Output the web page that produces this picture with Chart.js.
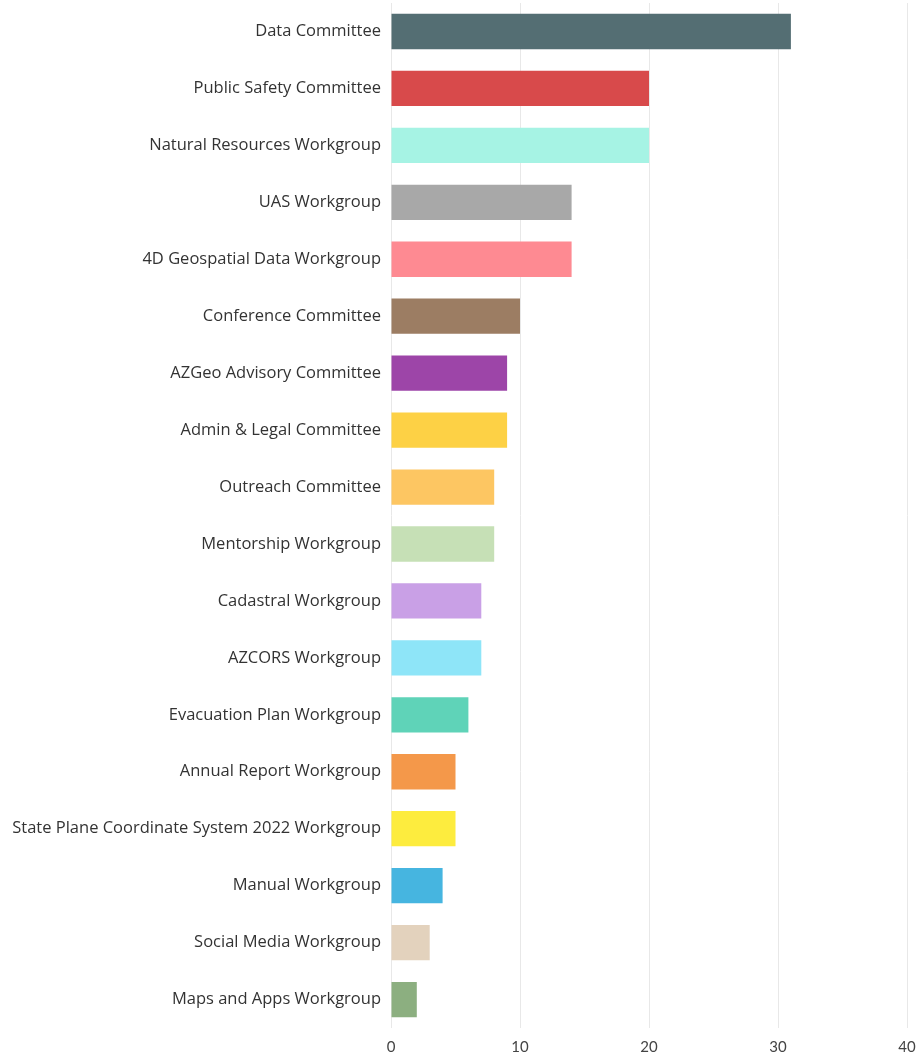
<!DOCTYPE html>
<html>
<head>
<meta charset="utf-8">
<title>Committees and Workgroups</title>
<script src="https://cdn.jsdelivr.net/npm/chart.js@4"></script>
<style>
  html, body { margin: 0; padding: 0; background: #fff; }
  #wrap { width: 920px; height: 1059px; }
</style>
</head>
<body>
<div id="wrap"><canvas id="groupChart"></canvas></div>
<script>
// Nombres de los comités y grupos de trabajo
const groups = [
  'Data Committee',
  'Public Safety Committee',
  'Natural Resources Workgroup',
  'UAS Workgroup',
  '4D Geospatial Data Workgroup',
  'Conference Committee',
  'AZGeo Advisory Committee',
  'Admin & Legal Committee',
  'Outreach Committee',
  'Mentorship Workgroup',
  'Cadastral Workgroup',
  'AZCORS Workgroup',
  'Evacuation Plan Workgroup',
  'Annual Report Workgroup',
  'State Plane Coordinate System 2022 Workgroup',
  'Manual Workgroup',
  'Social Media Workgroup',
  'Maps and Apps Workgroup'
];

// Cantidad por grupo
const counts = [31, 20, 20, 14, 14, 10, 9, 9, 8, 8, 7, 7, 6, 5, 5, 4, 3, 2];

// Marcas del eje X
const xTicks = [0, 10, 20, 30, 40];

// Un color por barra
const barColors = [
  '#546e73', '#d84a4b', '#a6f3e4', '#a8a8a8', '#fe8a92', '#9c7d63',
  '#9d45a8', '#fdd145', '#fdc662', '#c6e0b6', '#c9a0e6', '#8ee5f8',
  '#5fd3b8', '#f4984a', '#fdec3e', '#46b5e0', '#e3d2bd', '#8caf80'
];

const ctx = document.getElementById('groupChart').getContext('2d');

new Chart(ctx, {
  type: 'bar',
  data: {
    labels: groups,
    datasets: [{
      data: counts,
      backgroundColor: barColors,
      borderWidth: 0,
      barPercentage: 0.62,
      categoryPercentage: 1
    }]
  },
  options: {
    indexAxis: 'y',
    responsive: true,
    maintainAspectRatio: false,
    animation: false,
    layout: { padding: { top: 3, right: 0, bottom: 0, left: 0 } },
    plugins: {
      legend: { display: false },
      tooltip: { enabled: false }
    },
    scales: {
      x: {
        min: 0,
        max: 40,
        afterBuildTicks: (scale) => {
          scale.ticks = xTicks.map(v => ({ value: v }));
        },
        // el "40" queda casi pegado al borde derecho
        afterFit: (scale) => {
          scale.height = 31;
          scale.paddingRight = 13;
        },
        grid: { color: '#e8e8e8', drawTicks: false },
        border: { display: false },
        ticks: {
          padding: 10,
          color: '#444',
          font: { family: 'Lato', size: 15 }
        }
      },
      y: {
        // ancho fijo del eje de nombres y sin margen extra arriba/abajo
        afterFit: (scale) => {
          scale.width = 391;
          scale.paddingTop = 0;
          scale.paddingBottom = 0;
        },
        grid: { display: false, drawTicks: false },
        border: { display: false },
        ticks: {
          padding: 10,
          color: '#333',
          font: { family: 'Open Sans', size: 16.5 }
        }
      }
    }
  }
});
</script>
</body>
</html>
